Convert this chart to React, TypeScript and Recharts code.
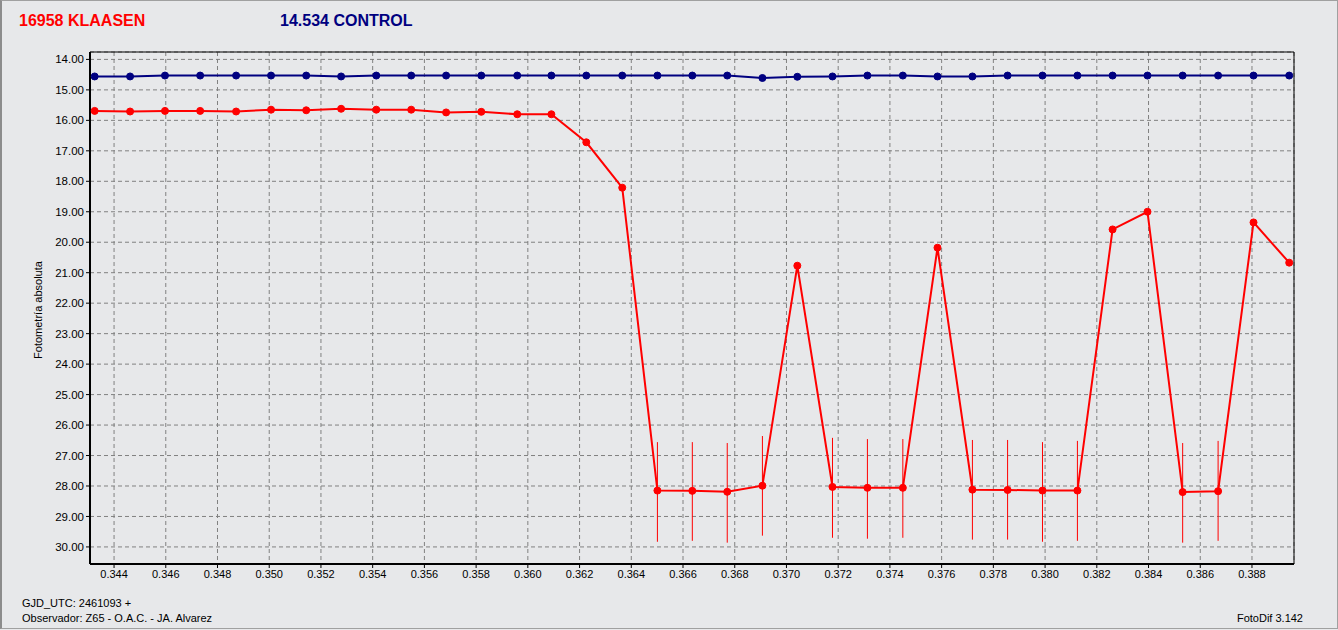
import { CartesianGrid, ErrorBar, Line, LineChart, ReferenceArea, XAxis, YAxis } from 'recharts'

// GJD_UTC - 2461093
const times = [
  0.34325, 0.34462, 0.34597, 0.34733, 0.34872, 0.35007, 0.35143, 0.35278, 0.35414, 0.35549,
  0.35684, 0.35820, 0.35959, 0.36091, 0.36226, 0.36365, 0.36501, 0.36636, 0.36771, 0.36907,
  0.37042, 0.37178, 0.37313, 0.37450, 0.37584, 0.37719, 0.37855, 0.37990, 0.38125, 0.38261,
  0.38396, 0.38532, 0.38669, 0.38806, 0.38944,
]

// 16958 KLAASEN
const target = [
  15.69, 15.71, 15.69, 15.69, 15.71, 15.65, 15.67, 15.62, 15.65, 15.65,
  15.74, 15.72, 15.80, 15.80, 16.72, 18.21, 28.15, 28.16, 28.19, 27.99,
  20.77, 28.03, 28.06, 28.06, 20.18, 28.12, 28.13, 28.15, 28.15, 19.58,
  19.00, 28.20, 28.17, 19.35, 20.67,
]

// error towards brighter / fainter magnitude (null = no bar drawn)
const errUp = [
  null, null, null, null, null, null, null, null, null, null,
  null, null, null, null, null, null, 1.59, 1.60, 1.60, 1.63,
  null, 1.61, 1.60, 1.60, null, 1.63, 1.64, 1.59, 1.63, null,
  null, 1.61, 1.65, null, null,
]
const errDown = [
  null, null, null, null, null, null, null, null, null, null,
  null, null, null, null, null, null, 1.68, 1.64, 1.67, 1.64,
  null, 1.67, 1.67, 1.64, null, 1.64, 1.63, 1.68, 1.65, null,
  null, 1.66, 1.63, null, null,
]

// 14.534 CONTROL
const control = [
  14.56, 14.56, 14.53, 14.53, 14.53, 14.53, 14.53, 14.56, 14.53, 14.53,
  14.53, 14.53, 14.53, 14.53, 14.53, 14.53, 14.53, 14.53, 14.53, 14.61,
  14.57, 14.56, 14.53, 14.53, 14.56, 14.56, 14.53, 14.53, 14.53, 14.53,
  14.53, 14.53, 14.53, 14.53, 14.53,
]

const xTicks = [
  0.344, 0.346, 0.348, 0.350, 0.352, 0.354, 0.356, 0.358, 0.360, 0.362, 0.364, 0.366,
  0.368, 0.370, 0.372, 0.374, 0.376, 0.378, 0.380, 0.382, 0.384, 0.386, 0.388,
]
const yTicks = [14, 15, 16, 17, 18, 19, 20, 21, 22, 23, 24, 25, 26, 27, 28, 29, 30]

const X_MIN = 0.34307
const X_MAX = 0.389625
const Y_MIN = 13.757
const Y_MAX = 30.56

const xMinor: number[] = []
for (let v = 0.3435; v < X_MAX; v += 0.0005) xMinor.push(Number(v.toFixed(4)))
const yMinor: number[] = []
for (let v = 14; v <= 30.5; v += 0.25) yMinor.push(v)

const RED = '#ff0000'
const NAVY = '#000080'
const BG = '#e7e8ea'
const FONT = '"Liberation Sans", Arial, sans-serif'

const rows = times.map((t, i) => ({
  t,
  target: target[i],
  control: control[i],
  err: errUp[i] == null ? null : [errUp[i], errDown[i]],
}))

export default function App() {
  return (
    <div style={{ position: 'absolute', left: 0, top: 0, width: 1338, height: 630, background: BG, fontFamily: FONT }}>
      <div
        style={{
          position: 'absolute', left: 0, top: 0, width: 1335, height: 627,
          borderTop: '1px solid #a0a0a0', borderRight: '1px solid #a0a0a0',
          borderBottom: '1px solid #a0a0a0', borderLeft: '2px solid #8c8c8c',
        }}
      />
      <LineChart
        width={1338}
        height={630}
        data={rows}
        margin={{ top: 52, right: 44, bottom: 36, left: 30 }}
        style={{ position: 'absolute', left: 0, top: 0 }}
      >
        <CartesianGrid stroke="#808080" strokeDasharray="4 3" strokeWidth={1} />
        <XAxis
          xAxisId="minor"
          dataKey="t"
          type="number"
          domain={[X_MIN, X_MAX]}
          allowDataOverflow
          ticks={xMinor}
          tick={false}
          tickSize={3}
          height={0}
          axisLine={false}
          tickLine={{ stroke: '#000' }}
        />
        <XAxis
          dataKey="t"
          type="number"
          domain={[X_MIN, X_MAX]}
          allowDataOverflow
          ticks={xTicks}
          tickFormatter={(v: number) => v.toFixed(3)}
          tick={{ fill: '#000', fontSize: 11, fontFamily: FONT }}
          tickSize={4}
          height={30}
          axisLine={{ stroke: '#000', strokeWidth: 2 }}
          tickLine={{ stroke: '#000' }}
          interval={0}
        />
        <YAxis
          yAxisId="minor"
          type="number"
          reversed
          domain={[Y_MIN, Y_MAX]}
          allowDataOverflow
          ticks={yMinor}
          tick={false}
          tickSize={2}
          width={0}
          axisLine={false}
          tickLine={{ stroke: '#000' }}
        />
        <YAxis
          type="number"
          reversed
          domain={[Y_MIN, Y_MAX]}
          allowDataOverflow
          ticks={yTicks}
          tickFormatter={(v: number) => v.toFixed(2)}
          tick={{ fill: '#000', fontSize: 11.5, fontFamily: FONT }}
          tickSize={4}
          width={60}
          axisLine={{ stroke: '#000', strokeWidth: 2 }}
          tickLine={{ stroke: '#000' }}
          interval={0}
        />
        <ReferenceArea x1={X_MIN} x2={X_MAX} y1={Y_MIN} y2={Y_MAX} fill="none" stroke="#000" strokeWidth={1} ifOverflow="visible" />
        <Line
          dataKey="control"
          stroke={NAVY}
          strokeWidth={2}
          dot={{ r: 3.5, fill: NAVY, stroke: NAVY, strokeWidth: 1 }}
          isAnimationActive={false}
        />
        <Line
          dataKey="target"
          stroke={RED}
          strokeWidth={2}
          dot={{ r: 3.5, fill: RED, stroke: RED, strokeWidth: 1 }}
          isAnimationActive={false}
        >
          <ErrorBar dataKey="err" direction="y" width={0} stroke={RED} strokeWidth={1} />
        </Line>
      </LineChart>
      <svg width={1338} height={630} style={{ position: 'absolute', left: 0, top: 0, pointerEvents: 'none' }}>
        <text x={19} y={26} fill={RED} fontSize={16} fontWeight={700} fontFamily={FONT}>16958 KLAASEN</text>
        <text x={280} y={26} fill={NAVY} fontSize={16} fontWeight={700} fontFamily={FONT}>14.534 CONTROL</text>
        <text x={0} y={0} transform="translate(42 310) rotate(-90)" textAnchor="middle" fontSize={11} fontFamily={FONT} fill="#000">
          Fotometría absoluta
        </text>
        <text x={22} y={607} fontSize={11} fontFamily={FONT} fill="#000">GJD_UTC: 2461093 +</text>
        <text x={22} y={622} fontSize={11} fontFamily={FONT} fill="#000">Observador: Z65 - O.A.C. - JA. Alvarez</text>
        <text x={1303} y={622} textAnchor="end" fontSize={11} fontFamily={FONT} fill="#000">FotoDif 3.142</text>
      </svg>
    </div>
  )
}
